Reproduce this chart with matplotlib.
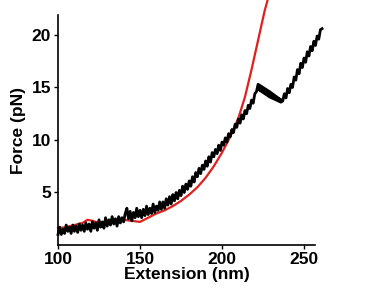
import numpy as np
import matplotlib
matplotlib.use("Agg")
import matplotlib.pyplot as plt

ext_black = [100, 101, 102, 103, 104, 105, 106, 107, 108, 109, 110, 111, 112, 113, 114, 115,
             116, 117, 118, 119, 120, 121, 122, 123, 124, 125, 126, 127, 128, 129, 130, 131,
             132, 133, 134, 135, 136, 137, 138, 139, 140, 141, 142, 143, 144, 145, 146, 147,
             148, 149, 150, 151, 152, 153, 154, 155, 156, 157, 158, 159, 160, 161, 162, 163,
             164, 165, 166, 167, 168, 169, 170, 171, 172, 173, 174, 175, 176, 177, 178, 179,
             180, 181, 182, 183, 184, 185, 186, 187, 188, 189, 190, 191, 192, 193, 194, 195,
             196, 197, 198, 199, 200, 201, 202, 203, 204, 205, 206, 207, 208, 209, 210, 211,
             212, 213, 214, 215, 216, 217, 218, 219, 220, 221, 222,
             229, 236, 229, 222, 229, 236, 229, 222.5, 230, 237,
             238, 239, 240, 241, 242, 243, 244, 245, 246, 247, 248, 249, 250, 251, 252, 253,
             254, 255, 256, 257, 258, 259, 260, 261]
force_black = [1.0, 1.7, 1.0, 1.5, 1.1, 1.9, 1.3, 1.7, 1.1, 1.9, 1.3, 1.8, 1.2, 2.0, 1.4, 1.9,
               1.3, 2.1, 1.5, 2.0, 1.3, 2.2, 1.6, 2.1, 1.4, 2.4, 1.7, 2.2, 1.6, 2.6, 1.8, 2.4,
               1.9, 2.7, 2.0, 2.5, 1.8, 2.7, 2.1, 2.6, 2.2, 3.0, 3.5, 2.5, 3.2, 2.3, 3.1, 2.6,
               3.5, 2.7, 3.3, 2.6, 3.4, 2.8, 3.7, 2.9, 3.5, 3.0, 3.9, 3.1, 3.7, 3.3, 4.1, 3.4,
               4.1, 3.5, 4.4, 3.8, 4.6, 3.9, 4.8, 4.2, 5.0, 4.4, 5.2, 4.7, 5.6, 5.0, 5.8, 5.3,
               6.1, 5.6, 6.5, 6.0, 6.9, 6.5, 7.3, 6.8, 7.6, 7.2, 8.0, 7.5, 8.4, 7.9, 8.8, 8.4,
               9.1, 8.7, 9.5, 9.0, 9.8, 9.5, 10.2, 9.8, 10.6, 10.3, 11.0, 10.7, 11.5, 11.2, 12.0, 11.6,
               12.4, 12.0, 12.8, 12.5, 13.3, 13.0, 13.8, 13.5, 14.4, 14.6, 15.3,
               14.6, 13.8, 14.3, 15.0, 14.4, 13.6, 14.1, 14.8, 14.2, 13.7,
               14.4, 14.0, 14.9, 14.5, 15.3, 15.0, 16.0, 15.7, 16.7, 16.3, 17.3, 16.9, 17.8, 17.4, 18.4, 18.0,
               18.9, 18.5, 19.4, 19.0, 19.9, 19.6, 20.5, 20.6]

# red curve (fit)
ext_red = [100, 105, 110, 115, 118, 121, 125, 130, 135, 140, 145, 150, 155, 160, 165, 170,
           175, 180, 185, 190, 195, 200, 205, 210, 214, 218, 222, 226, 229]
force_red = [1.6, 1.7, 1.9, 2.1, 2.4, 2.3, 2.1, 2.2, 2.3, 2.4, 2.3, 2.2, 2.6, 3.0, 3.3, 3.7,
             4.2, 4.8, 5.5, 6.4, 7.5, 8.8, 10.3, 12.1, 14.1, 16.7, 19.5, 22.3, 24.0]

xticks = [100, 150, 200, 250]
yticks = [5, 10, 15, 20]

plt.rcParams['font.family'] = ['Liberation Sans', 'DejaVu Sans']
plt.rcParams['font.weight'] = 'bold'

fig = plt.figure(figsize=(3.82, 2.99), dpi=100)
ax = fig.add_axes([58 / 382, 54 / 299, 257 / 382, 230 / 299])

ax.plot(ext_red, force_red, color='#e0201c', lw=1.6, clip_on=False, zorder=2)
ax.plot(ext_black, force_black, color='black', lw=2.0, clip_on=False, zorder=3)

ax.set_xlim(100, 256.7)
ax.set_ylim(0, 21.9)
ax.set_xticks(xticks)
ax.set_yticks(yticks)
ax.tick_params(direction='out', length=3, width=1, labelsize=12.5, pad=2)
for lab in ax.get_xticklabels() + ax.get_yticklabels():
    lab.set_fontweight('bold')
ax.spines['top'].set_visible(False)
ax.spines['right'].set_visible(False)
ax.spines['left'].set_linewidth(1.2)
ax.spines['bottom'].set_linewidth(1.2)

ax.set_xlabel('Extension (nm)', fontsize=12.5, fontweight='bold', labelpad=0)
ax.set_ylabel('Force (pN)', fontsize=12.5, fontweight='bold', labelpad=4)

fig.savefig('out.png', dpi=100)
